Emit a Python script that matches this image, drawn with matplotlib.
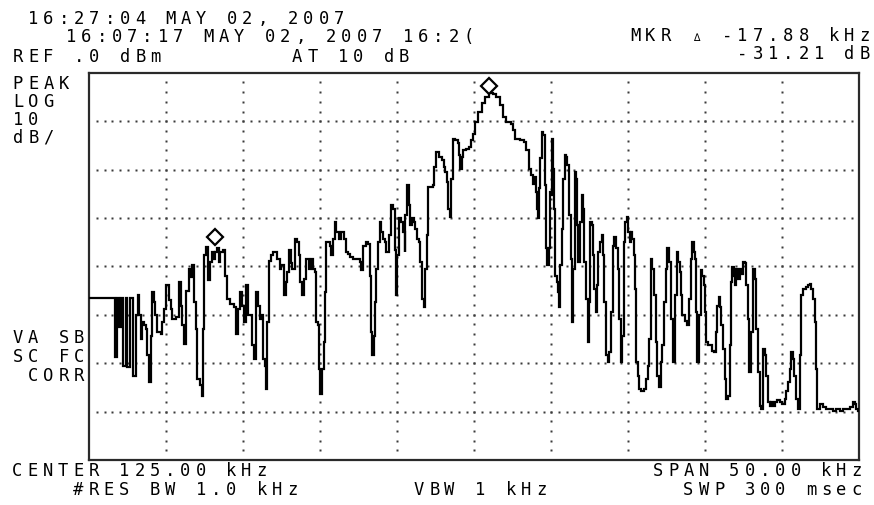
import matplotlib
matplotlib.use("Agg")
import matplotlib.pyplot as plt
import numpy as np

# ---------------- data ----------------
center_khz = 125.0
span_khz = 50.0
ref_dbm = 0.0
db_per_div = 10.0
n_ydiv = 8

freq_khz = [
    100.0, 101.62, 101.68, 101.83, 101.94, 102.05, 102.22, 102.37, 102.48, 102.65,
    102.87, 103.02, 103.13, 103.23, 103.34, 103.45, 103.56, 103.69, 103.77, 103.88,
    103.99, 104.09, 104.2, 104.27, 104.42, 104.63, 104.74, 104.85, 104.96, 105.17,
    105.28, 105.39, 105.6, 105.82, 105.93, 106.03, 106.14, 106.25, 106.47, 106.57,
    106.68, 106.79, 106.9, 107.0, 107.22, 107.33, 107.39, 107.48, 107.61, 107.69,
    107.82, 107.97, 108.08, 108.19, 108.3, 108.4, 108.51, 108.69, 108.84, 108.94,
    109.16, 109.38, 109.55, 109.63, 109.76, 109.91, 110.02, 110.17, 110.28, 110.45,
    110.56, 110.67, 110.8, 110.93, 111.06, 111.16, 111.31, 111.42, 111.49, 111.57,
    111.64, 111.81, 111.96, 112.18, 112.39,
    112.48, 112.63, 112.76, 112.85, 112.97, 113.08, 113.19, 113.34, 113.49, 113.6,
    113.71, 113.84, 113.95, 114.1, 114.27, 114.42, 114.53, 114.64, 114.75, 114.85,
    114.92, 115.0, 115.13, 115.22, 115.29, 115.39, 115.5, 115.61, 115.72, 115.83,
    115.93, 116.04, 116.21, 116.37, 116.52, 116.65, 116.8, 116.95, 117.12, 117.34,
    117.55, 117.64, 117.77, 117.94, 118.09, 118.2, 118.31, 118.37, 118.48, 118.53,
    118.63, 118.74, 118.85, 118.96, 119.07, 119.17, 119.28, 119.43, 119.56, 119.71,
    119.82, 119.93, 119.99, 120.1, 120.25, 120.36, 120.47, 120.53, 120.64, 120.75,
    120.84, 120.94, 121.07, 121.16, 121.27, 121.38, 121.48, 121.61, 121.72, 121.83,
    121.94, 122.02, 122.2, 122.31, 122.41, 122.52, 122.74, 122.89, 123.0, 123.1,
    123.21, 123.32, 123.43, 123.51, 123.6, 123.77, 123.93, 124.03, 124.1, 124.18,
    124.29, 124.46, 124.64, 124.79, 124.94, 125.07, 125.22,
    125.47, 125.69, 125.95, 126.23, 126.44, 126.66, 126.87, 127.09, 127.37, 127.52,
    127.67, 127.95, 128.23, 128.38, 128.53, 128.66, 128.81, 128.88, 128.98, 129.07,
    129.13, 129.2, 129.29, 129.39, 129.48, 129.57, 129.65, 129.74, 129.82, 129.89,
    129.95, 130.04, 130.13, 130.17, 130.26, 130.36, 130.43, 130.49, 130.58, 130.69,
    130.77, 130.86, 130.97, 131.03, 131.14, 131.25, 131.35, 131.42, 131.51, 131.61,
    131.68, 131.76, 131.89, 131.98, 132.07, 132.15, 132.26, 132.37, 132.45, 132.54,
    132.63, 132.71, 132.8, 132.88, 132.97, 133.06, 133.14, 133.27, 133.36, 133.45,
    133.55, 133.66, 133.77, 133.88, 133.98, 134.09, 134.2, 134.31, 134.41, 134.52,
    134.61, 134.7, 134.8, 134.91, 135.0, 135.08, 135.17, 135.26, 135.34, 135.43,
    135.51, 135.6, 135.71, 135.82, 135.99, 136.12, 136.25, 136.35, 136.46, 136.57,
    136.68, 136.79, 136.89, 137.0, 137.11, 137.22, 137.32, 137.43, 137.54, 137.65,
    137.76,
    137.79, 137.9, 138.0, 138.16, 138.22, 138.33, 138.44, 138.5, 138.65, 138.81,
    138.94, 139.04, 139.15, 139.24, 139.35, 139.41, 139.48, 139.58, 139.69, 139.8,
    139.89, 139.95, 140.02, 140.06, 140.17, 140.32, 140.45, 140.56, 140.67, 140.78,
    140.86, 140.97, 141.03, 141.14, 141.25, 141.36, 141.47, 141.58, 141.66, 141.75,
    141.84, 141.94, 142.01, 142.12, 142.23, 142.33, 142.44, 142.55, 142.66, 142.77,
    142.87, 142.98, 143.09, 143.2, 143.31, 143.42, 143.52, 143.63, 143.74, 143.85,
    143.96, 144.07, 144.17, 144.28, 144.39, 144.5, 144.65, 144.82, 145.0, 145.15,
    145.26, 145.36, 145.47, 145.58, 145.69, 145.79, 145.9, 146.01, 146.12, 146.23,
    146.34, 146.45, 146.55, 146.66, 146.77, 146.88, 146.99, 147.1, 147.16, 147.27,
    147.42, 147.64, 147.85, 148.07, 148.29, 148.5, 148.72, 148.94, 149.15, 149.37,
    149.59, 149.7, 149.81, 149.92, 150.0,
]

level_dbm = [
    -46.5, -46.5, -58.8, -46.5, -52.6, -46.5, -60.5, -46.5, -60.8, -46.5,
    -62.6, -50.1, -46.0, -50.1, -55.0, -51.5, -52.2, -52.9, -58.4, -63.9,
    -54.3, -45.3, -47.4, -50.1, -53.6, -53.9, -51.5, -48.8, -43.9, -47.0,
    -48.8, -50.8, -50.5, -43.2, -48.1, -52.2, -56.0, -45.0, -40.5, -42.2,
    -39.8, -47.4, -52.9, -63.2, -64.6, -66.7, -52.9, -37.7, -36.0, -42.9,
    -39.1, -37.0, -38.4, -37.0, -36.3, -39.1, -37.0, -36.7, -41.9, -46.7,
    -47.7, -48.4, -53.9, -48.8, -45.3, -48.1, -51.5, -43.9, -50.1, -50.1,
    -56.3, -59.1, -45.3, -48.1, -50.8, -50.1, -59.1, -60.5, -65.3, -51.5,
    -38.8, -37.7, -37.0, -38.4, -40.5,
    -39.8, -46.0, -43.2, -41.2, -36.7, -39.4, -40.5, -34.3, -35.0, -37.7,
    -43.2, -46.0, -42.6, -38.4, -40.5, -38.4, -40.5, -41.2, -51.5, -52.2,
    -61.2, -66.3, -61.2, -55.7, -45.3, -35.0, -35.0, -35.7, -37.7, -34.3,
    -30.8, -32.9, -34.3, -32.9, -34.3, -37.0, -37.4, -38.1, -38.4, -38.4,
    -39.1, -40.8, -35.7, -35.0, -35.3, -41.9, -53.6, -58.4, -54.3, -47.4,
    -40.5, -35.0, -30.8, -32.9, -34.3, -35.0, -37.0, -33.6, -27.4, -28.1,
    -36.7, -46.0, -37.7, -30.1, -30.8, -32.9, -37.0, -29.4, -23.2, -27.4,
    -31.5, -30.1, -30.8, -32.2, -34.3, -35.0, -39.1, -46.7, -48.4, -40.5,
    -33.6, -23.6, -23.6, -23.2, -19.4, -16.3, -17.4, -18.1, -19.4, -20.5,
    -22.6, -28.1, -29.8, -21.9, -13.6, -13.9, -14.6, -17.0, -19.8, -17.4,
    -16.0, -15.7, -15.3, -13.9, -12.6, -10.1, -8.1,
    -6.3, -5.0, -4.1, -4.3, -5.0, -6.7, -9.1, -10.1, -10.5, -11.9,
    -13.6, -13.9, -14.3, -16.0, -19.8, -21.2, -22.9, -21.5, -24.6, -28.1,
    -30.1, -23.9, -17.7, -12.2, -12.9, -23.2, -36.3, -39.8, -36.3, -24.6,
    -25.3, -13.6, -19.8, -28.1, -41.9, -43.2, -45.3, -48.4, -39.8, -32.2,
    -21.9, -17.0, -17.4, -19.1, -29.4, -38.4, -51.5, -40.5, -20.5, -21.9,
    -31.5, -39.1, -30.8, -25.3, -28.1, -39.1, -46.7, -55.7, -47.4, -30.8,
    -31.5, -37.7, -44.6, -49.4, -43.9, -37.0, -35.0, -33.6, -37.7, -47.4,
    -58.4, -59.8, -57.7, -49.4, -35.7, -33.9, -36.3, -40.5, -50.8, -59.8,
    -54.3, -35.0, -30.8, -29.8, -32.9, -35.0, -32.9, -34.3, -37.7, -44.6,
    -59.8, -62.6, -65.3, -65.7, -65.3, -63.2, -60.5, -55.0, -38.4, -40.5,
    -46.0, -55.7, -62.6, -65.0, -59.8, -56.3, -47.4, -40.5, -36.3, -39.1,
    -42.6,
    -50.8, -59.8, -46.0, -37.0, -39.1, -41.2, -46.0, -50.1, -51.2, -52.2,
    -46.7, -38.4, -35.0, -37.0, -38.4, -49.4, -59.8, -50.1, -40.8, -41.9,
    -43.9, -49.4, -51.5, -55.7, -56.3, -56.3, -57.4, -57.7, -53.6, -48.1,
    -46.3, -48.4, -52.2, -57.0, -63.2, -67.4, -66.7, -56.3, -43.2, -40.1,
    -41.9, -43.9, -40.5, -42.6, -40.5, -41.5, -39.1, -39.4, -43.9, -50.8,
    -61.9, -53.6, -40.5, -42.6, -52.9, -61.9, -68.8, -69.4, -57.0, -58.4,
    -62.6, -68.1, -68.8, -68.1, -68.8, -68.1, -67.7, -68.1, -68.4, -67.4,
    -65.7, -63.9, -61.2, -57.7, -59.1, -62.6, -67.4, -69.4, -58.4, -46.0,
    -44.6, -44.6, -44.3, -43.9, -43.6, -44.6, -46.7, -51.5, -61.2, -69.4,
    -68.4, -69.1, -69.4, -69.4, -69.8, -69.4, -69.8, -69.4, -69.4, -69.1,
    -68.1, -68.4, -69.4, -69.8, -69.8,
]

marker_freq_khz = [125.95, 108.13]
marker_level_dbm = [-2.7, -34.0]

header_lines = ["16:27:04 MAY 02, 2007", "16:07:17 MAY 02, 2007 16:2(", "REF .0 dBm"]
atten_label = "AT 10 dB"
marker_lines = ["MKR \u2206 -17.88 kHz", "-31.21 dB"]
left_labels_top = ["PEAK", "LOG", "10", "dB/"]
left_labels_bottom = ["VA SB", "SC FC", " CORR"]
footer_left = ["CENTER 125.00 kHz", "    #RES BW 1.0 kHz"]
footer_mid = "VBW 1 kHz"
footer_right = ["SPAN 50.00 kHz", "SWP 300 msec"]

# ---------------- figure ----------------
W, H = 874, 506
fig = plt.figure(figsize=(W / 100, H / 100), dpi=100)
fig.patch.set_facecolor("white")

left_px, right_px, top_px, bot_px = 89.3, 859.3, 73.8, 461.0
ax = fig.add_axes([left_px / W, 1 - bot_px / H, (right_px - left_px) / W, (bot_px - top_px) / H])

f0 = center_khz - span_khz / 2
f1 = center_khz + span_khz / 2
y0 = ref_dbm - n_ydiv * db_per_div
ax.set_xlim(f0, f1)
ax.set_ylim(y0, ref_dbm)
ax.set_xticks([])
ax.set_yticks([])
for sp in ax.spines.values():
    sp.set_linewidth(1.6)
    sp.set_color("#2a2a2a")

# dotted graticule
dot_kw = dict(ls="none", marker="s", ms=1.5, mec="none", mfc="#3a3a3a", zorder=1)
hx = np.arange(1, 100) * (span_khz / 100) + f0
for k in range(1, n_ydiv):
    yv = ref_dbm - k * db_per_div
    ax.plot(hx, np.full_like(hx, yv), **dot_kw)
vy = ref_dbm - np.arange(1, n_ydiv * 5) * (db_per_div / 5)
for k in range(1, 10):
    xv = f0 + k * span_khz / 10
    ax.plot(np.full_like(vy, xv), vy, **dot_kw)

# trace
ax.plot(freq_khz, level_dbm, color="black", lw=1.6, drawstyle="steps-post",
        solid_joinstyle="miter", zorder=3)

# markers
ax.plot(marker_freq_khz, marker_level_dbm, ls="none", marker="D", ms=8.2,
        mfc="white", mec="black", mew=1.6, zorder=4)

# ---------------- text (fixed-pitch character cells) ----------------
pitch = 15.3
fs = 12.3
fam = ["DejaVu Sans Mono"]


def cell_text(x_left, baseline, s):
    for i, ch in enumerate(s):
        if ch == " ":
            continue
        cx = x_left + i * pitch + 5.0
        size = fs * 0.62 if ch == "\u2206" else fs
        fig.text(cx / W, 1 - baseline / H, ch, ha="center", va="baseline",
                 fontsize=size, family=fam, color="black")


def cell_text_right(x_right, baseline, s):
    cell_text(x_right - len(s) * pitch + 5.0, baseline, s)


cell_text(28, 24, header_lines[0])
cell_text(66, 42, header_lines[1])
cell_text(13, 62, header_lines[2])
cell_text(292, 62, atten_label)
cell_text_right(870, 41, marker_lines[0])
cell_text_right(870, 59, marker_lines[1])

for i, s in enumerate(left_labels_top):
    cell_text(13, 89 + i * 18, s)
for i, s in enumerate(left_labels_bottom):
    cell_text(13, 343 + i * 19, s)

cell_text(12, 476, footer_left[0])
cell_text(12, 495, footer_left[1])
cell_text(414, 495, footer_mid)
cell_text_right(862, 476, footer_right[0])
cell_text_right(862, 495, footer_right[1])

fig.savefig("out.png", dpi=100, facecolor="white")
